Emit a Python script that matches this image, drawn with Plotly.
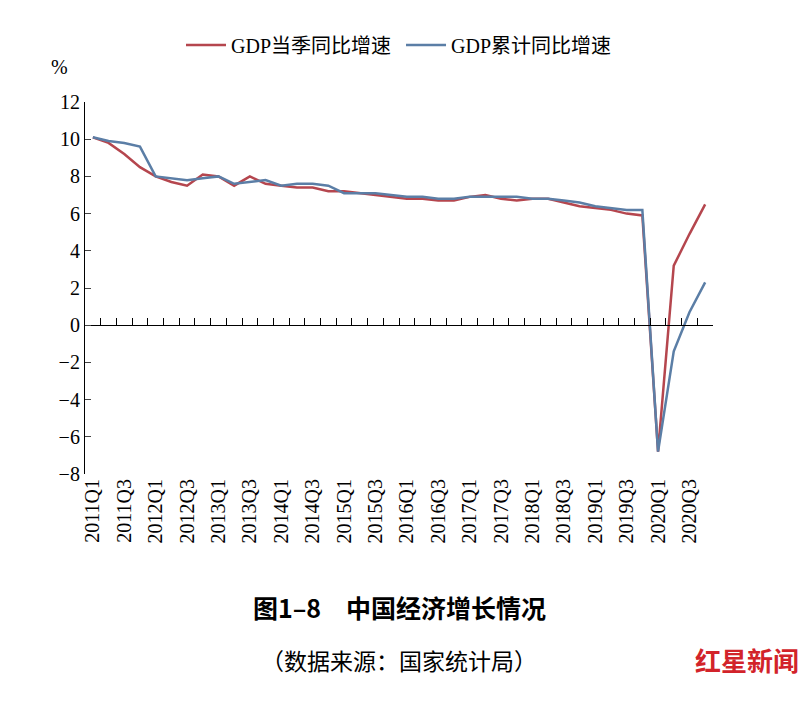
import plotly.graph_objects as go

quarters = [f"{y}Q{q}" for y in range(2011, 2021) for q in range(1, 5)]
tick_labels = quarters[::2]

gdp_quarter = [10.1, 9.8, 9.2, 8.5,
               8.0, 7.7, 7.5, 8.1,
               8.0, 7.5, 8.0, 7.6,
               7.5, 7.4, 7.4, 7.2,
               7.2, 7.1, 7.0, 6.9,
               6.8, 6.8, 6.7, 6.7,
               6.9, 7.0, 6.8, 6.7,
               6.8, 6.8, 6.6, 6.4,
               6.3, 6.2, 6.0, 5.9,
               -6.8, 3.2, 4.9, 6.5]
gdp_cumulative = [10.1, 9.9, 9.8, 9.6,
                  8.0, 7.9, 7.8, 7.9,
                  8.0, 7.6, 7.7, 7.8,
                  7.5, 7.6, 7.6, 7.5,
                  7.1, 7.1, 7.1, 7.0,
                  6.9, 6.9, 6.8, 6.8,
                  6.9, 6.9, 6.9, 6.9,
                  6.8, 6.8, 6.7, 6.6,
                  6.4, 6.3, 6.2, 6.2,
                  -6.8, -1.4, 0.7, 2.3]

RED = "#b5464e"
BLUE = "#5b7ea6"
SERIF = "Liberation Serif, Noto Sans CJK SC"
CJK = "Noto Sans CJK SC"

x = list(range(len(quarters)))
fig = go.Figure()
fig.add_trace(go.Scatter(x=x, y=gdp_quarter, mode="lines", name="GDP当季同比增速 ",
                         line=dict(color=RED, width=2.5)))
fig.add_trace(go.Scatter(x=x, y=gdp_cumulative, mode="lines", name="GDP累计同比增速",
                         line=dict(color=BLUE, width=2.5)))
# dummy trace to activate the zero-line axis
fig.add_trace(go.Scatter(x=[0], y=[0], xaxis="x2", showlegend=False,
                         mode="markers", marker=dict(opacity=0)))

fig.update_layout(
    width=808, height=718,
    margin=dict(l=77, r=103, t=94, b=252, autoexpand=False),
    plot_bgcolor="white", paper_bgcolor="white",
    font=dict(family=SERIF, size=20, color="black"),
    legend=dict(orientation="h", x=0.5, xanchor="center", y=1.153, yanchor="middle",
                font=dict(family=SERIF, size=20), itemwidth=40),
    xaxis=dict(range=[-0.5, 39.5], tickmode="array", tickvals=x[::2], ticktext=tick_labels,
               tickangle=-90, showline=False, ticks="", showgrid=False, zeroline=False),
    xaxis2=dict(range=[-0.5, 39.5], overlaying="x", anchor="free", position=0.4,
                tickmode="array", tickvals=[i - 0.5 for i in range(41)], showticklabels=False,
                ticks="inside", ticklen=7, tickcolor="black", showline=True,
                linecolor="black", linewidth=1.2, showgrid=False),
    yaxis=dict(range=[-8, 12], dtick=2, showline=True, linecolor="black", linewidth=1.2,
               ticks="inside", ticklen=6, showgrid=False, zeroline=False),
    annotations=[
        dict(text="%", xref="paper", yref="paper", x=-0.04, y=1.06, showarrow=False,
             font=dict(size=20), xanchor="center", yanchor="bottom"),
        dict(text="<b>图1–8　中国经济增长情况</b>", xref="paper", yref="paper", x=0.5, y=-0.41,
             showarrow=False, font=dict(family=CJK, size=25)),
        dict(text="（数据来源：国家统计局）", xref="paper", yref="paper", x=0.5, y=-0.55,
             showarrow=False, font=dict(family=CJK, size=23)),
        dict(text="<b>红星新闻</b>", xref="paper", yref="paper", x=1.14, y=-0.555,
             showarrow=False, font=dict(family=CJK, size=26, color="#d2232a"), xanchor="right"),
    ],
)

fig.write_html("out.html")
